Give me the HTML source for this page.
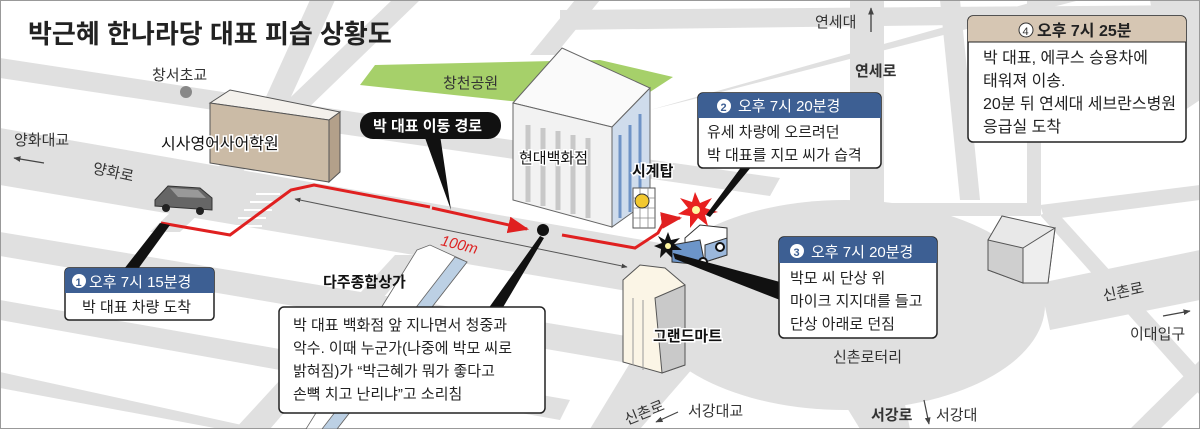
<!DOCTYPE html>
<html><head><meta charset="utf-8"><style>
html,body{margin:0;padding:0;background:#fff}
svg{display:block}
text{font-family:"Liberation Sans","Noto Sans CJK KR",sans-serif}
</style></head><body>
<svg width="1200" height="429" viewBox="0 0 1200 429" xmlns="http://www.w3.org/2000/svg">
<defs>
<marker id="ar" viewBox="0 0 10 10" refX="9" refY="5" markerWidth="7" markerHeight="7" orient="auto"><path d="M0,1 L10,5 L0,9 z" fill="#e02020"/></marker>
<marker id="ag" viewBox="0 0 10 10" refX="9" refY="5" markerWidth="6" markerHeight="6" orient="auto"><path d="M0,1 L10,5 L0,9 z" fill="#444"/></marker>
<marker id="ag2" viewBox="0 0 10 10" refX="1" refY="5" markerWidth="6" markerHeight="6" orient="auto"><path d="M10,1 L0,5 L10,9 z" fill="#444"/></marker>
</defs>
<rect width="1200" height="429" fill="#fff"/>
<g fill="#e0e0e0">
<!-- rotary -->
<ellipse cx="845" cy="305" rx="200" ry="105"/>
<!-- down-right bands -->
<polygon points="0,58 0,78 480,150 485,132"/>
<polygon points="0,128 0,185 680,300 700,250"/>
<polygon points="0,232 0,256 640,365 650,340"/>
<polygon points="0,300 0,320 560,420 570,400"/>
<polygon points="0,372 0,388 220,429 260,429"/>
<polygon points="300,110 300,128 770,196 780,178"/>
<polygon points="560,30 560,10 1200,5 1200,22"/>
<!-- up-right bands -->
<polygon points="150,232 180,232 420,0 392,0"/>
<polygon points="260,110 285,110 335,0 310,0"/>
<polygon points="530,55 555,55 600,0 575,0"/>
<polygon points="650,110 690,100 1080,0 1040,0"/>
<polygon points="235,429 270,429 420,255 395,255"/>
<!-- vertical 연세로 -->
<rect x="850" y="0" width="34" height="240"/>
<rect x="1027" y="0" width="14" height="215"/>
<polygon points="1150,0 1200,0 1200,100 1170,120"/>
<!-- horizontals right -->
<polygon points="890,203 1040,203 1040,216 890,216"/>
<polygon points="1040,205 1200,185 1200,200 1045,220"/>
<polygon points="1040,283 1200,250 1200,300 1050,330"/>
<polygon points="1040,215 1055,210 1200,370 1200,395"/>
<polygon points="1130,429 1160,429 1200,390 1200,360"/>
<polygon points="940,0 960,0 980,200 960,200"/>
<!-- down roads -->
<polygon points="830,380 900,380 910,429 860,429"/>
<polygon points="650,330 700,360 640,429 590,429"/>
</g>
<rect x="0.5" y="0.5" width="1199" height="428" fill="none" stroke="#999"/>

<!-- park -->
<polygon points="360,85 375,65 600,60 673,77 650,92 520,102" fill="#a6d06a"/>
<text x="443" y="88" font-size="15" fill="#333">창천공원</text>

<!-- title -->
<text x="28" y="43" font-size="26" font-weight="bold" fill="#222">박근혜 한나라당 대표 피습 상황도</text>

<text x="152" y="80" font-size="15" fill="#333">창서초교</text>
<circle cx="186" cy="92" r="6" fill="#888"/>

<!-- academy building -->
<polygon points="210,103 230,90 340,112 329,120" fill="#f4f1ec" stroke="#555" stroke-width="1"/>
<polygon points="210,103 329,120 329,182 210,163" fill="#cbbba6" stroke="#555" stroke-width="1"/>
<polygon points="329,120 340,112 340,172 329,182" fill="#b3a08a" stroke="#555" stroke-width="1"/>
<text x="161" y="149" font-size="16" fill="#111" stroke="#fff" stroke-width="3" paint-order="stroke">시사영어사어학원</text>

<text x="14" y="145" font-size="15" fill="#333">양화대교</text>
<line x1="44" y1="163" x2="14" y2="158" stroke="#444" stroke-width="1.2" marker-end="url(#ag)"/>
<text x="92" y="173" font-size="15" fill="#333" transform="rotate(12 92 173)">양화로</text>

<!-- car -->
<g>
<polygon points="155,200 168,186 200,188 212,198 212,210 155,206" fill="#666" stroke="#333"/>
<polygon points="170,188 198,190 206,198 178,197" fill="#999"/>
<circle cx="166" cy="208" r="4" fill="#222"/><circle cx="200" cy="211" r="4" fill="#222"/>
</g>
<!-- crosswalk -->
<g stroke="#fff" stroke-width="2"><line x1="232" y1="226" x2="262" y2="226"/><line x1="238" y1="218" x2="266" y2="218"/><line x1="244" y1="210" x2="272" y2="210"/><line x1="250" y1="202" x2="276" y2="202"/><line x1="256" y1="194" x2="280" y2="194"/></g>

<!-- 100m measure -->
<line x1="295" y1="199" x2="627" y2="267" stroke="#555" stroke-width="1" marker-start="url(#ag2)" marker-end="url(#ag)"/>
<text x="440" y="245" font-size="15" font-style="italic" fill="#d22" transform="rotate(14 440 245)">100m</text>

<!-- red route -->
<polyline points="161,223 230,235 291,190 314,185 430,207" fill="none" stroke="#e02020" stroke-width="3"/>
<line x1="432" y1="208" x2="527" y2="229" stroke="#e02020" stroke-width="3" marker-end="url(#ar)"/>
<polyline points="562,235 635,248 658,233 665,220 680,218" fill="none" stroke="#e02020" stroke-width="3" marker-end="url(#ar)"/>
<circle cx="543" cy="230" r="6" fill="#111"/>

<!-- path label -->
<polygon points="424,135 440,135 451,210" fill="#111"/>
<rect x="360" y="112" width="141" height="27" rx="13" fill="#111"/>
<text x="373" y="131" font-size="15" font-weight="bold" fill="#fff">박 대표 이동 경로</text>

<!-- department store -->
<polygon points="513,103 562,48 650,88 612,127" fill="#fafafa" stroke="#666"/>
<polygon points="513,103 612,127 612,227 513,200" fill="#f2f2f2" stroke="#666"/>
<g stroke="#c8c8c8" stroke-width="5">
<line x1="528" y1="125" x2="528" y2="202"/><line x1="543" y1="128" x2="543" y2="206"/><line x1="558" y1="131" x2="558" y2="210"/><line x1="573" y1="135" x2="573" y2="214"/><line x1="588" y1="138" x2="588" y2="218"/>
</g>
<polygon points="612,127 650,88 650,200 612,227" fill="#cfdcec" stroke="#666"/>
<g stroke="#6f93c6" stroke-width="3"><line x1="620" y1="135" x2="620" y2="218"/><line x1="630" y1="125" x2="630" y2="212"/><line x1="640" y1="114" x2="640" y2="206"/></g>
<text x="519" y="163" font-size="15" fill="#111" stroke="#fff" stroke-width="3" paint-order="stroke">현대백화점</text>
<text x="632" y="176" font-size="15" font-weight="bold" fill="#111" stroke="#fff" stroke-width="3" paint-order="stroke">시계탑</text>
<rect x="633" y="188" width="22" height="40" fill="#fff" stroke="#555"/>
<g stroke="#888" stroke-width="0.8"><line x1="633" y1="198" x2="655" y2="198"/><line x1="633" y1="208" x2="655" y2="208"/><line x1="633" y1="218" x2="655" y2="218"/><line x1="640" y1="188" x2="640" y2="228"/><line x1="648" y1="188" x2="648" y2="228"/></g>
<circle cx="642" cy="201" r="7" fill="#f2c830" stroke="#333"/>

<!-- vehicle -->
<polygon points="685,238 700,225 727,228 727,255 705,262 685,255" fill="#fff" stroke="#333"/>
<polygon points="672,245 700,240 705,265 672,262" fill="#6c95c9" stroke="#333"/>
<polygon points="705,245 727,238 727,255 705,262" fill="#9bb8dc" stroke="#333"/>
<circle cx="703" cy="262" r="4" fill="#fff" stroke="#111" stroke-width="2"/>
<circle cx="720" cy="247" r="4" fill="#fff" stroke="#111" stroke-width="2"/>
<!-- explosions -->
<polygon points="695,192 700,203 712,198 705,208 718,212 705,215 708,226 698,218 690,228 690,216 678,214 688,208 680,198 692,202" fill="#e82020"/>
<circle cx="696" cy="210" r="4" fill="#fff6a0"/>
<polygon points="668,232 671,240 680,238 674,244 682,250 672,250 672,258 666,252 660,258 661,249 654,246 662,243 658,236 665,240" fill="#111"/>
<circle cx="668" cy="246" r="3" fill="#fff6a0"/>

<!-- grand mart -->
<polygon points="623,280 640,265 665,268 685,285 685,365 662,373 623,362" fill="#fbf5e6" stroke="#555"/>
<polygon points="655,298 685,285 685,365 662,373" fill="#c9c9c9" stroke="#555"/>
<line x1="633" y1="298" x2="633" y2="365" stroke="#999"/><line x1="643" y1="300" x2="643" y2="370" stroke="#999"/>
<text x="653" y="341" font-size="15" font-weight="bold" fill="#111" stroke="#fff" stroke-width="3" paint-order="stroke">그랜드마트</text>

<!-- 다주종합상가 slab -->
<polygon points="417,250 430,245 467,262 337,429 306,429" fill="#ffffff" stroke="#666" stroke-width="0.8"/>
<polygon points="455,257 467,262 337,429 322,429" fill="#bcd0e4" stroke="#666" stroke-width="0.8"/>
<text x="323" y="287" font-size="15" font-weight="bold" fill="#111">다주종합상가</text>

<!-- right building -->
<polygon points="988,240 1002,216 1055,228 1048,283 1023,283 988,270" fill="#e8e8e8" stroke="#555"/>
<polygon points="1023,248 1055,228 1048,283 1023,283" fill="#eeeeee" stroke="#555"/>
<polygon points="988,240 1023,248 1023,283 988,270" fill="#cfcfcf" stroke="#555"/>

<!-- place labels -->
<text x="815" y="27" font-size="15" fill="#333">연세대</text>
<line x1="871" y1="32" x2="871" y2="8" stroke="#333" stroke-width="1.2" marker-end="url(#ag)"/>
<text x="855" y="76" font-size="15" font-weight="bold" fill="#333">연세로</text>
<text x="833" y="362" font-size="15" fill="#333">신촌로터리</text>
<text x="1104" y="301" font-size="15" fill="#333" transform="rotate(-12 1104 301)">신촌로</text>
<text x="1130" y="339" font-size="15" fill="#333">이대입구</text>
<line x1="1163" y1="316" x2="1190" y2="311" stroke="#444" stroke-width="1.2" marker-end="url(#ag)"/>
<text x="627" y="425" font-size="15" fill="#333" transform="rotate(-22 627 425)">신촌로</text>
<text x="688" y="416" font-size="15" fill="#333">서강대교</text>
<line x1="678" y1="412" x2="656" y2="422" stroke="#444" stroke-width="1.2" marker-end="url(#ag)"/>
<text x="871" y="420" font-size="15" font-weight="bold" fill="#333">서강로</text>
<line x1="924" y1="400" x2="929" y2="424" stroke="#444" stroke-width="1.2" marker-end="url(#ag)"/>
<text x="936" y="420" font-size="15" fill="#333">서강대</text>

<!-- box 1 -->
<polygon points="160,223 170,225 138,269 124,269" fill="#111"/>
<rect x="65" y="268" width="149" height="52" rx="4" fill="#fff" stroke="#222" stroke-width="1.5"/>
<path d="M65,293 V272 a4,4 0 0 1 4,-4 H210 a4,4 0 0 1 4,4 V293 z" fill="#3d5f93"/>
<circle cx="79" cy="281" r="7" fill="#fff"/><text x="75.5" y="286" font-size="11" font-weight="bold" fill="#3d5f93">1</text>
<text x="89" y="287" font-size="15" fill="#fff">오후 7시 15분경</text>
<text x="82" y="312" font-size="15" fill="#222">박 대표 차량 도착</text>

<!-- center callout -->
<polygon points="540,236 544,238 502,309 488,309" fill="#111"/>
<rect x="279" y="307" width="266" height="106" rx="5" fill="#fff" stroke="#222" stroke-width="1.5"/>
<text font-size="15" fill="#222"><tspan x="293" y="330">박 대표 백화점 앞 지나면서 청중과</tspan><tspan x="293" y="353">악수. 이때 누군가(나중에 박모 씨로</tspan><tspan x="293" y="376">밝혀짐)가 “박근혜가 뭐가 좋다고</tspan><tspan x="293" y="399">손뼉 치고 난리냐”고 소리침</tspan></text>

<!-- box 2 -->
<polygon points="742,166 752,166 710,217 706,215" fill="#111"/>
<rect x="698" y="93" width="183" height="75" rx="5" fill="#fff" stroke="#222" stroke-width="1.5"/>
<path d="M698,118 V98 a5,5 0 0 1 5,-5 H876 a5,5 0 0 1 5,5 V118 z" fill="#3d5f93"/>
<circle cx="724" cy="106" r="7" fill="#fff"/><text x="720.5" y="111" font-size="11" font-weight="bold" fill="#3d5f93">2</text>
<text x="738" y="111" font-size="15" fill="#fff">오후 7시 20분경</text>
<text font-size="15" fill="#222"><tspan x="707" y="137">유세 차량에 오르려던</tspan><tspan x="707" y="160">박 대표를 지모 씨가 습격</tspan></text>

<!-- box 3 -->
<polygon points="673,253 675,259 780,300 780,282" fill="#111"/>
<rect x="779" y="237" width="158" height="101" rx="5" fill="#fff" stroke="#222" stroke-width="1.5"/>
<path d="M779,263 V242 a5,5 0 0 1 5,-5 H932 a5,5 0 0 1 5,5 V263 z" fill="#3d5f93"/>
<circle cx="797" cy="251" r="7" fill="#fff"/><text x="793.5" y="256" font-size="11" font-weight="bold" fill="#3d5f93">3</text>
<text x="811" y="257" font-size="15" fill="#fff">오후 7시 20분경</text>
<text font-size="15" fill="#222"><tspan x="790" y="283">박모 씨 단상 위</tspan><tspan x="790" y="306">마이크 지지대를 들고</tspan><tspan x="790" y="329">단상 아래로 던짐</tspan></text>

<!-- box 4 -->
<rect x="968" y="16" width="218" height="126" rx="5" fill="#fff" stroke="#222" stroke-width="1.5"/>
<path d="M968,42 V21 a5,5 0 0 1 5,-5 H1181 a5,5 0 0 1 5,5 V42 z" fill="#d6c6b3"/>
<line x1="968" y1="42" x2="1186" y2="42" stroke="#222" stroke-width="1"/>
<circle cx="1026" cy="30" r="7" fill="#fff" stroke="#333"/><text x="1022.5" y="35" font-size="11" fill="#333">4</text>
<text x="1037" y="36" font-size="16" font-weight="bold" fill="#222">오후 7시 25분</text>
<text font-size="16" fill="#222"><tspan x="983" y="63">박 대표, 에쿠스 승용차에</tspan><tspan x="983" y="86">태워져 이송.</tspan><tspan x="983" y="109">20분 뒤 연세대 세브란스병원</tspan><tspan x="983" y="132">응급실 도착</tspan></text>
</svg>
</body></html>
